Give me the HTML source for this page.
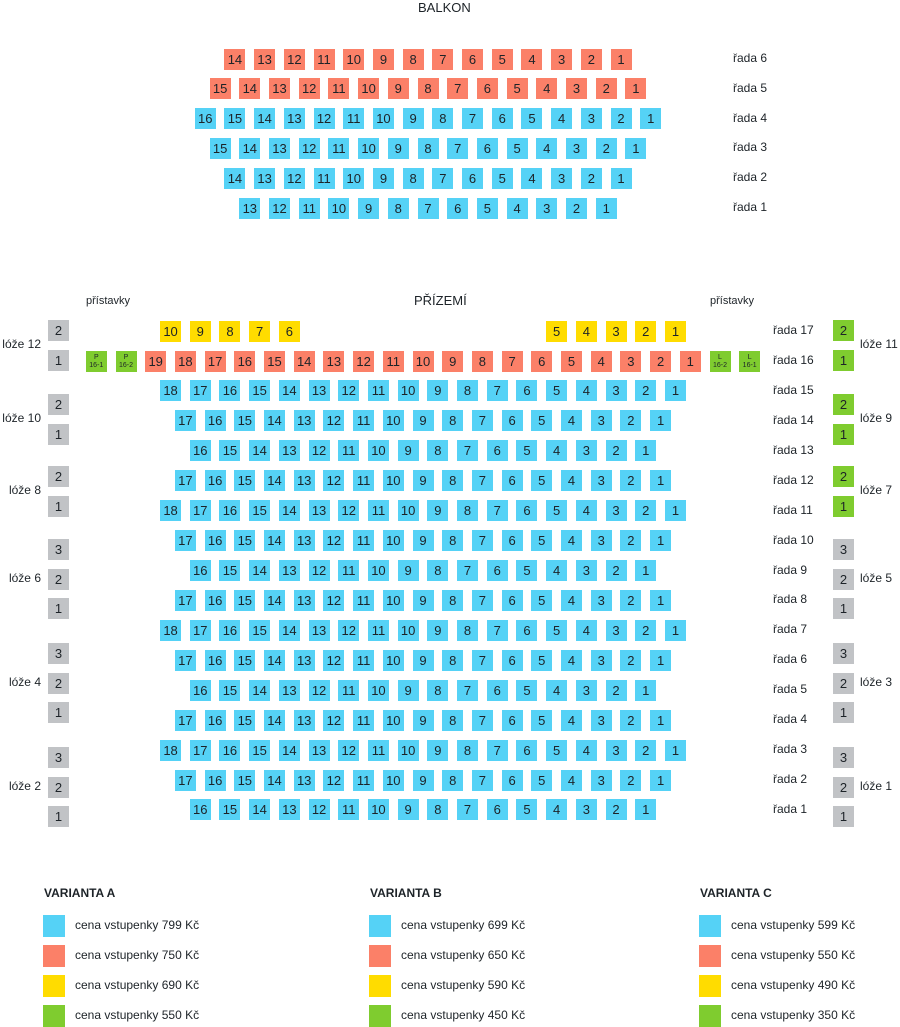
<!DOCTYPE html>
<html><head><meta charset="utf-8">
<style>
body{margin:0;background:#fff;}
#root{position:relative;width:900px;height:1027px;overflow:hidden;font-family:"Liberation Sans","DejaVu Sans",sans-serif;color:#1d2328;}
.s{position:absolute;width:21px;height:21px;font-size:13px;line-height:21px;text-align:center;color:#1d2328;box-sizing:border-box;}
.b{background:#55d2f6;}.r{background:#fb8068;}.y{background:#ffdc00;}.g{background:#7fcc2f;}.k{background:#c1c3c6;}
.sm{font-size:7px;line-height:8px;padding-top:3px;}
.t{position:absolute;font-size:12px;white-space:nowrap;font-weight:500;}
.h{position:absolute;font-size:12px;font-weight:bold;white-space:nowrap;}
</style></head><body>
<div id="root">
<div class="t" style="left:418px;top:0px;font-size:13px">BALKON</div>
<div class="t" style="left:414px;top:293px;font-size:13px">PŘÍZEMÍ</div>
<div class="t" style="left:86px;top:295px;font-size:11px">přístavky</div>
<div class="t" style="left:710px;top:295px;font-size:11px">přístavky</div>
</div>
<script>
const root=document.getElementById('root');
const PITCH=29.7, W=21;
const balkonRows=[6,5,4,3,2,1];
const balkonCounts=[14,15,16,15,14,13];
const balkonColors=['r','r','b','b','b','b'];
const parterRows=[15,14,13,12,11,10,9,8,7,6,5,4,3,2,1];
const parterCounts=[18,17,16,17,18,17,16,17,18,17,16,17,18,17,16];
const row17Left=[10,9,8,7,6];
const row17Right=[5,4,3,2,1];
const row16Count=19;
const logeLeft=[['12',2,'k',320],['10',2,'k',394],['8',2,'k',466],['6',3,'k',539],['4',3,'k',643],['2',3,'k',747]];
const logeRight=[['11',2,'g',320],['9',2,'g',394],['7',2,'g',466],['5',3,'k',539],['3',3,'k',643],['1',3,'k',747]];
const legendHeads=['VARIANTA A','VARIANTA B','VARIANTA C'];
const legendPrices=[[799,750,690,550],[699,650,590,450],[599,550,490,350]];
const legendColors=['b','r','y','g'];

function seat(x,y,cls,txt,name){
 const d=document.createElement('div');
 d.className='s '+cls;
 d.style.left=x+'px';d.style.top=y+'px';
 d.innerHTML=txt;
 
 
 root.appendChild(d);return d;
}
function label(x,y,txt,name){
 const d=document.createElement('div');
 d.className='t';d.style.left=x+'px';d.style.top=y+'px';d.textContent=txt;
 
 
 root.appendChild(d);
}
balkonRows.forEach((r,i)=>{
 const n=balkonCounts[i];const cy=59+i*29.8;
 const left=428-((n-1)*PITCH+W)/2;
 for(let k=0;k<n;k++)seat(left+k*PITCH,cy-10.5,balkonColors[i],String(n-k),'balkon-r'+r+'-seat-'+(n-k));
 label(733,cy-8,'řada '+r,'balkon-row-label-'+r);
});
const RP=29.93;
function rowY(r){return 361+(16-r)*RP;}
function rowLeft(n){return 423-((n-1)*PITCH+W)/2;}
parterRows.forEach((r,i)=>{
 const n=parterCounts[i];const cy=rowY(r);const left=rowLeft(n);
 for(let k=0;k<n;k++)seat(left+k*PITCH,cy-10.5,'b',String(n-k),'prizemi-r'+r+'-seat-'+(n-k));
 label(773,cy-8,'řada '+r,'row-label-'+r);
});
{const cy=rowY(16);const left=rowLeft(row16Count);
 for(let k=0;k<row16Count;k++)seat(left+k*PITCH,cy-10.5,'r',String(row16Count-k),'prizemi-r16-seat-'+(row16Count-k));
 seat(left-2*PITCH,cy-10.5,'g sm','P<br>16-1','extra-seat-p16-1');
 seat(left-PITCH,cy-10.5,'g sm','P<br>16-2','extra-seat-p16-2');
 seat(left+row16Count*PITCH,cy-10.5,'g sm','L<br>16-2','extra-seat-l16-2');
 seat(left+(row16Count+1)*PITCH,cy-10.5,'g sm','L<br>16-1','extra-seat-l16-1');
 label(773,cy-8,'řada 16','row-label-16');}
{const cy=rowY(17);const left=rowLeft(18);
 row17Left.forEach((s,k)=>seat(left+k*PITCH,cy-10.5,'y',String(s),'prizemi-r17-seat-'+s));
 row17Right.forEach((s,k)=>seat(left+(13+k)*PITCH,cy-10.5,'y',String(s),'prizemi-r17-seat-'+s));
 label(773,cy-8,'řada 17','row-label-17');}
function logeSeats(arr,x){
 arr.forEach(([nm,n,c,top])=>{
  for(let k=0;k<n;k++)seat(x,top+k*29.7,c,String(n-k),'loze-'+nm+'-seat-'+(n-k));
 });
}
logeSeats(logeLeft,48);
logeSeats(logeRight,833);
function logeLabels(arr,lx,align){
 arr.forEach(([nm,n,c,top])=>{
  const mid=top+((n-1)*29.7)/2+10.5;
  const d=document.createElement('div');
  d.className='t';d.style.top=(mid-8)+'px';d.textContent='lóže '+nm;
  if(align==='r'){d.style.right=(900-lx)+'px';}else d.style.left=lx+'px';
  
  
  root.appendChild(d);
 });
}
logeLabels(logeLeft,41,'r');
logeLabels(logeRight,860,'l');
legendHeads.forEach((h,i)=>{
 const x=[44,370,700][i];
 const d=document.createElement('div');
 d.className='h';d.style.left=x+'px';d.style.top='886px';d.textContent=h;
 
 
 root.appendChild(d);
 legendPrices[i].forEach((p,j)=>{
  const y=915+j*30;
  const sw=document.createElement('div');
  sw.className='s '+legendColors[j];sw.style.left=(x-1)+'px';sw.style.top=y+'px';sw.style.width='22px';sw.style.height='22px';
  
  
  root.appendChild(sw);
  const t=document.createElement('div');
  t.className='t';t.style.left=(x+31)+'px';t.style.top=(y+3)+'px';t.style.fontSize='12px';
  t.textContent='cena vstupenky '+p+' Kč';
  
  
  root.appendChild(t);
 });
});
</script>
</body></html>
